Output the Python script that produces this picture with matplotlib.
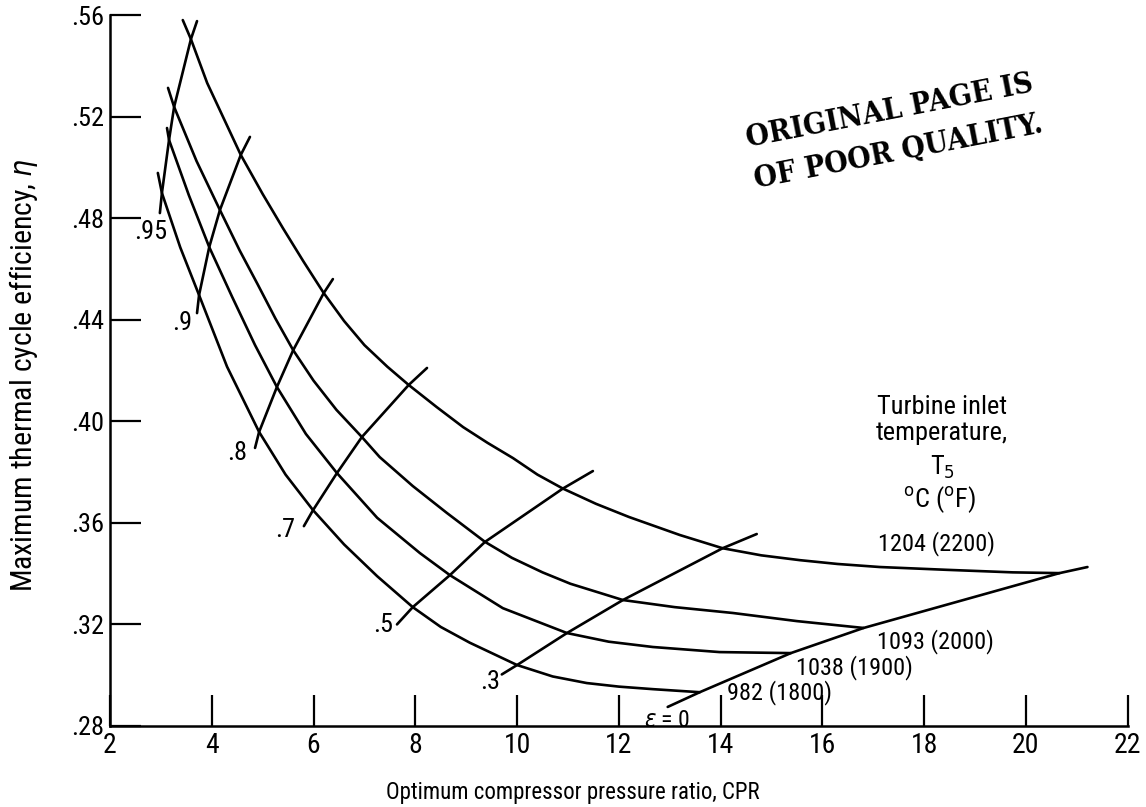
import matplotlib
matplotlib.use("Agg")
import matplotlib.pyplot as plt

plt.rcParams["font.family"] = ["Roboto Condensed", "DejaVu Sans"]
plt.rcParams["font.stretch"] = "condensed"
plt.rcParams["mathtext.fontset"] = "dejavusans"

# turbine inlet temperature curves: (CPR, max efficiency)
t1204_x = [3.43, 3.59, 3.91, 4.57, 5.00, 5.40, 5.80, 6.20, 6.60, 7.00, 7.45, 7.87, 8.42, 8.94, 9.42, 9.92,
           10.40, 10.90, 11.55, 12.20, 13.20, 14.04, 14.80, 15.56, 16.30, 17.13, 18.44, 19.74, 20.66]
t1204_y = [.558, .5505, .5332, .5049, .4895, .4760, .4630, .4505, .4395, .4300, .4215, .4143, .4056, .3977, .3915, .3855,
           .3790, .3735, .3675, .3623, .3552, .3500, .3472, .3453, .3438, .3426, .3415, .3405, .3402]

t1093_x = [3.14, 3.26, 3.70, 4.16, 4.55, 4.90, 5.25, 5.60, 6.00, 6.45, 6.95, 7.30, 7.95, 8.62, 9.37, 9.90,
           10.50, 11.05, 11.63, 12.08, 13.10, 14.24, 15.50, 16.81]
t1093_y = [.5313, .5238, .5025, .4832, .4672, .4540, .4405, .4280, .4160, .4045, .3938, .3859, .3745, .3639, .3525, .3462,
           .3405, .3360, .3324, .3296, .3268, .3245, .3213, .3186]

t1038_x = [3.12, 3.16, 3.55, 3.95, 4.40, 4.85, 5.28, 5.85, 6.46, 7.25, 8.09, 8.68, 9.72, 10.98, 11.80, 12.67, 13.98, 15.38]
t1038_y = [.5155, .5108, .4890, .4686, .4490, .4300, .4135, .3950, .3796, .3620, .3481, .3394, .3264, .3166, .3132, .3111, .3091, .3087]

t982_x = [2.94, 3.02, 3.38, 3.75, 4.30, 4.93, 5.45, 5.99, 6.60, 7.25, 7.95, 8.50, 9.07, 10.00, 10.70, 11.37, 12.00, 12.67, 13.59]
t982_y = [.4978, .4899, .4685, .4497, .4215, .3958, .3790, .3650, .3515, .3390, .3268, .3190, .3128, .3040, .2995, .2969, .2955, .2945, .2933]

# regenerator effectiveness lines
eff_95_x = [2.98, 3.02, 3.16, 3.26, 3.59, 3.71]
eff_95_y = [.482, .4899, .5108, .5238, .5505, .5576]
eff_90_x = [3.71, 3.75, 3.95, 4.16, 4.57, 4.75]
eff_90_y = [.4426, .4497, .4686, .4832, .5049, .512]
eff_80_x = [4.85, 4.93, 5.28, 5.60, 6.20, 6.38]
eff_80_y = [.3895, .3958, .4135, .4280, .4505, .456]
eff_70_x = [5.81, 5.99, 6.46, 6.95, 7.87, 8.23]
eff_70_y = [.3587, .3650, .3796, .3938, .4143, .421]
eff_50_x = [7.64, 7.95, 8.68, 9.37, 10.90, 11.49]
eff_50_y = [.3200, .3268, .3394, .3525, .3735, .3804]
eff_30_x = [9.70, 10.00, 10.98, 12.08, 14.04, 14.71]
eff_30_y = [.3003, .3040, .3166, .3296, .3500, .3556]
eff_00_x = [12.96, 13.59, 15.38, 16.81, 20.66, 21.21]
eff_00_y = [.2875, .2933, .3087, .3186, .3402, .3426]

x_ticks = [2, 4, 6, 8, 10, 12, 14, 16, 18, 20, 22]
y_ticks = [.28, .32, .36, .40, .44, .48, .52, .56]

fig = plt.figure(figsize=(11.46, 8.07), dpi=100)
ax = fig.add_axes([0.096, 0.1004, 0.888, 0.881])

lw = 1.9
for xs, ys in [(t1204_x, t1204_y), (t1093_x, t1093_y), (t1038_x, t1038_y), (t982_x, t982_y)]:
    ax.plot(xs, ys, color="black", lw=lw, solid_capstyle="round", solid_joinstyle="round")
for xs, ys in [(eff_95_x, eff_95_y), (eff_90_x, eff_90_y), (eff_80_x, eff_80_y), (eff_70_x, eff_70_y),
               (eff_50_x, eff_50_y), (eff_30_x, eff_30_y), (eff_00_x, eff_00_y)]:
    ax.plot(xs, ys, color="black", lw=lw, solid_capstyle="round", solid_joinstyle="round")

# effectiveness labels next to the lower end of each line
lab = dict(fontsize=19, color="black", ha="right", va="center")
ax.text(3.12, .4745, ".95", **lab)
ax.text(3.61, .4387, ".9", **lab)
ax.text(4.69, .3875, ".8", **lab)
ax.text(5.63, .3572, ".7", **lab)
ax.text(7.56, .3198, ".5", **lab)
ax.text(9.66, .2973, ".3", **lab)
ax.text(12.94, .2823, r"$\epsilon$ = 0", fontsize=17, ha="center", va="center")

# temperature labels
tl = dict(fontsize=17.5, color="black", ha="left", va="center")
ax.text(14.12, .2933, "982 (1800)", **tl)
ax.text(15.48, .3032, "1038 (1900)", **tl)
ax.text(17.07, .3131, "1093 (2000)", **tl)
ax.text(18.25, .3520, "1204 (2200)", fontsize=17.5, ha="center", va="center")

tb = dict(fontsize=19, ha="center", va="center")
ax.text(18.35, .4056, "Turbine inlet", **tb)
ax.text(18.35, .3954, "temperature,", **tb)
ax.text(18.37, .3820, r"T$_5$", **tb)
ax.text(18.30, .3690, r"$^{\rm o}$C ($^{\rm o}$F)", **tb)

# stamp
stamp = dict(fontsize=21.5, family="DejaVu Serif", fontweight="bold", rotation=11,
             rotation_mode="anchor", ha="center", va="center")
fig.text(0.7766, 0.8625, "ORIGINAL PAGE IS", **stamp)
fig.text(0.7836, 0.8116, "OF POOR QUALITY.", **stamp)

ax.set_xlim(2, 22)
ax.set_ylim(.28, .56)
ax.set_xticks(x_ticks)
ax.set_xticklabels([str(v) for v in x_ticks])
ax.set_yticks(y_ticks)
ax.set_yticklabels([f"{v:.2f}"[1:] for v in y_ticks])

ax.spines["top"].set_visible(False)
ax.spines["right"].set_visible(False)
for s in ("left", "bottom"):
    ax.spines[s].set_linewidth(1.8)
ax.tick_params(axis="both", direction="in", length=22, width=1.6, color="black")
ax.tick_params(axis="x", pad=4, labelsize=20)
ax.tick_params(axis="y", pad=4, labelsize=19)

ax.set_xlabel("Optimum compressor pressure ratio, CPR", fontsize=16.5, va="center")
ax.xaxis.set_label_coords(0.455, -0.093)
ax.set_ylabel(r"Maximum thermal cycle efficiency, $\eta$", fontsize=21.5, va="center")
ax.yaxis.set_label_coords(-0.085, 0.494)

fig.savefig("out.png", dpi=100, facecolor="white")
